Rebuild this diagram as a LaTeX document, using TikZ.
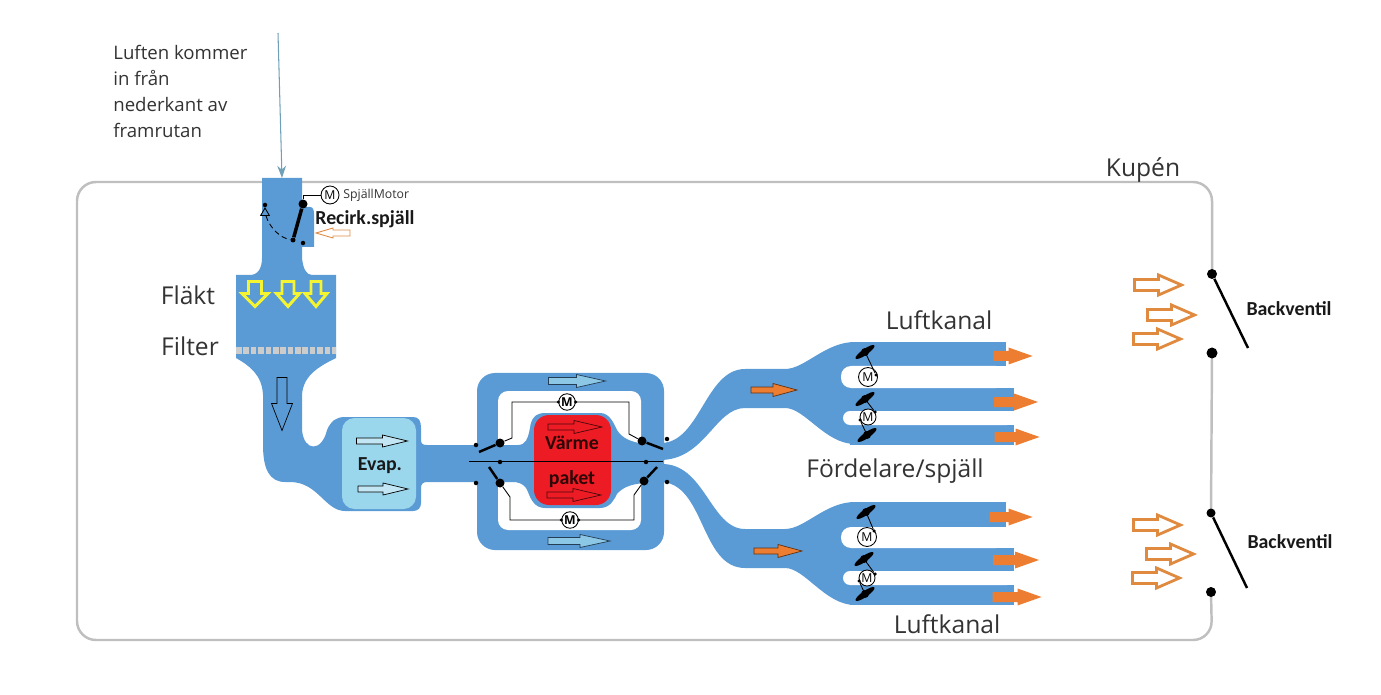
\documentclass[tikz,border=0pt]{standalone}
\usepackage{fontspec}
\setmainfont{Open Sans}
\newfontfamily\labelfont{Carlito}
\usetikzlibrary{arrows.meta,shapes.geometric}

\definecolor{ductblue}{HTML}{5B9BD5}
\definecolor{evapblue}{HTML}{9AD6EC}
\definecolor{pipeblue}{HTML}{8CC8E6}
\definecolor{heatred}{HTML}{ED1C24}
\definecolor{flowor}{HTML}{ED7D31}
\definecolor{hollowor}{HTML}{E08A40}
\definecolor{fanyellow}{HTML}{F4F430}
\definecolor{framegray}{HTML}{BFBFBF}

\tikzset{
  duct/.style={fill=ductblue},
  frameline/.style={draw=framegray,line width=1.4pt},
  % length, head width, shaft width, head length
  pics/flow/.style n args={4}{code={
    \path[pic actions] (-#1/2,-#3/2) -- (#1/2-#4,-#3/2) -- (#1/2-#4,-#2/2) -- (#1/2,0)
      -- (#1/2-#4,#2/2) -- (#1/2-#4,#3/2) -- (-#1/2,#3/2) -- cycle;}},
  solidor/.style={fill=flowor},
  hollow/.style={draw=hollowor,line width=1.6pt},
  thinarrow/.style={draw=black,line width=0.4pt},
  fanarrow/.style={draw=fanyellow,line width=1.7pt,rotate=-90},
  pivot/.style={circle,fill=black,inner sep=0pt,minimum size=#1*0.02cm},
  pivot/.default=8,
  tiny dot/.style={circle,fill=black,inner sep=0pt,minimum size=0.09cm},
  motor/.style={circle,draw=black,fill=white,line width=0.5pt,inner sep=0pt,minimum size=0.33cm,
    font=\fontsize{7}{8}\selectfont},
  wire/.style={draw=black,line width=0.5pt},
  flapline/.style={draw=black,line width=1.4pt},
  damper/.style={ellipse,fill=black,inner sep=0pt,minimum width=0.46cm,minimum height=0.12cm},
  bigtext/.style={inner sep=0pt,font=\fontsize{14}{16}\selectfont,text=black!80},
  boldtext/.style={inner sep=0pt,font=\labelfont\bfseries\fontsize{11.3}{13}\selectfont,text=black!90}
}

\begin{document}
\begin{tikzpicture}[x=0.02cm,y=-0.02cm]
  \useasboundingbox (0,0) rectangle (1381,695);

  % kupen frame with the two openings
  \coordinate (bvAtop) at (1212,274);
  \coordinate (bvAbot) at (1212,353);
  \coordinate (bvBtop) at (1211,513);
  \coordinate (bvBbot) at (1211,592);
  \draw[frameline] (bvAbot) -- (bvBtop);
  \draw[frameline,rounded corners=0.38cm] (bvBbot) -- (1212,640) -- (77,640) -- (77,182) -- (1212,182) -- (bvAtop);

  % intake, fan box, pipe and evaporator
  \fill[duct] (262,178) -- (302,178) -- (302,258) .. controls (303,268) and (306,275) .. (312,275)
    -- (336,275) -- (336,358) .. controls (320,366) and (303,375) .. (302,395)
    -- (302,430) .. controls (304,452) and (322,452) .. (327,430) .. controls (331,421) and (336,417) .. (345,417)
    -- (413,417) .. controls (419,417) and (421,421) .. (421,428) -- (421,440) .. controls (421,444) and (423,445) .. (427,445)
    -- (490,445) -- (490,482) -- (427,482) .. controls (423,482) and (421,484) .. (421,488)
    -- (421,503) .. controls (421,508) and (418,511) .. (413,511) -- (345,511)
    .. controls (325,511) and (318,482) .. (290,482) -- (285,482) .. controls (270,482) and (263,470) .. (263,445)
    -- (263,395) .. controls (262,375) and (250,366) .. (236,358) -- (236,275) -- (250,275)
    .. controls (258,275) and (262,268) .. (262,258) -- cycle;
  \fill[duct] (300,207) -- (310,207) .. controls (313,207) and (314,210) .. (314,214) -- (314,247) -- (300,247) -- cycle;
  \draw[framegray!80,line width=4pt,dash pattern=on 3.2pt off 1pt] (236,350.5) -- (336,350.5);
  \fill[evapblue,rounded corners=0.25cm] (342,418) rectangle (416,509);

  % bypass around the heater
  \fill[duct,rounded corners=0.36cm] (477,373) rectangle (664,550);
  \fill[white,rounded corners=0.2cm] (498,391) rectangle (641,530);
  \fill[duct] (495,445) -- (518,445) .. controls (526,445) and (528,438) .. (530,428) .. controls (531,419) and (535,413) .. (545,413)
    -- (600,413) .. controls (610,413) and (614,424) .. (617,430) .. controls (622,438) and (630,442) .. (645,444)
    -- (645,483) .. controls (630,484) and (622,488) .. (617,494) .. controls (614,500) and (610,508) .. (600,508)
    -- (545,508) .. controls (535,508) and (531,500) .. (528,492) .. controls (526,486) and (522,483) .. (515,482)
    -- (495,482) -- cycle;
  \fill[heatred,rounded corners=0.3cm] (534,415) rectangle (611,505);

  % upper branch and its three channels
  \fill[duct] (660,443) .. controls (700,444) and (705,369) .. (745,369) -- (785,369)
    .. controls (805,369) and (825,342) .. (855,342) -- (855,444)
    .. controls (825,444) and (805,408) .. (785,408) -- (745,408)
    .. controls (715,408) and (705,460) .. (660,460) -- cycle;
  \fill[duct] (850,342) rectangle (1006,366);
  \fill[duct] (850,388) rectangle (1014,411);
  \fill[duct] (850,425) rectangle (1014,445);
  \fill[white,rounded corners=0.2cm] (841,366) rectangle (1006,388);
  \fill[white,rounded corners=0.14cm] (843,411) rectangle (1014,425);

  % lower branch and its three channels
  \fill[duct] (660,464) .. controls (705,462) and (710,529) .. (745,529) -- (785,529)
    .. controls (805,529) and (825,502) .. (855,502) -- (855,605)
    .. controls (825,605) and (805,568) .. (785,568) -- (745,568)
    .. controls (700,568) and (705,482) .. (660,482) -- cycle;
  \fill[duct] (850,502) rectangle (1006,527);
  \fill[duct] (850,548) rectangle (1014,571);
  \fill[duct] (850,585) rectangle (1014,605);
  \fill[white,rounded corners=0.2cm] (841,527) rectangle (1006,548);
  \fill[white,rounded corners=0.14cm] (843,571) rectangle (1014,585);

  % air coming in
  \coordinate (airtop) at (278,33);
  \coordinate (airend) at (282,178);
  \draw[draw=pipeblue!80!black,line width=0.6pt,-{Stealth[length=7pt,width=5pt]}] (airtop) -- (airend);

  % recirc flap
  \node[pivot=9] (recpiv) at (303,204) {};
  \node[pivot=5] (recend) at (293,240) {};
  \node[tiny dot] (recdot) at (303,243) {};
  \node[tiny dot] (tridot) at (265,205) {};
  \node[draw=black,fill=ductblue,regular polygon,regular polygon sides=3,inner sep=0pt,minimum size=0.2cm,line width=0.5pt] (tri) at (265,213) {};
  \node[motor,minimum size=0.36cm] (recmotor) at (330,195) {M};
  \draw[line width=2pt] (recpiv) -- (recend);
  \draw[wire] (recpiv) |- (recmotor);
  \draw[wire,densely dashed] (tri) .. controls (270,228) and (280,238) .. (recend);
  \pic[draw=hollowor,line width=0.5pt,rotate=180] (recarrow) at (333,233) {flow={34}{10}{6}{17}};

  % fan and pipe arrows
  \pic[fanarrow] (fanA) at (255,294) {flow={25}{26}{13}{13}};
  \pic[fanarrow] (fanB) at (288,294) {flow={25}{23}{12}{13}};
  \pic[fanarrow] (fanC) at (316,294) {flow={25}{22}{10}{13}};
  \pic[thinarrow,rotate=-90] (pipearrow) at (282,404) {flow={53}{21}{10}{27}};

  % arrows through evaporator and bypass
  \pic[thinarrow,fill=white!40!evapblue] (evapA) at (382,441) {flow={51}{12}{6}{25}};
  \pic[thinarrow,fill=white!40!evapblue] (evapB) at (383,489) {flow={50}{12}{6}{25}};
  \pic[thinarrow,draw=black!60!ductblue,fill=pipeblue] (byA) at (577,381) {flow={57}{13}{7}{29}};
  \pic[thinarrow,draw=black!60!ductblue,fill=pipeblue] (byB) at (579,541) {flow={62}{13}{7}{30}};
  \pic[thinarrow,draw=black!70!heatred] (heatA) at (575,427) {flow={54}{13}{6}{28}};
  \pic[thinarrow,draw=black!70!heatred] (heatB) at (574,495) {flow={54}{13}{6}{28}};

  % orange air arrows in the branches
  \pic[solidor,draw=black!60!flowor,line width=0.4pt] (inA) at (774,390) {flow={46}{13}{6}{24}};
  \pic[solidor,draw=black!60!flowor,line width=0.4pt] (inB) at (778,551) {flow={48}{13}{6}{24}};
  \foreach \name/\xc/\yc/\len in {outA/1013/356/39,outB/1016/402/44,outC/1017/437/45,outD/1011/517/43,outE/1016/560/46,outF/1017/597/49}
    \pic[solidor] (\name) at (\xc,\yc) {flow={\len}{17}{10}{24}};

  % air leaving through the backventil
  \foreach \name/\xc/\yc in {ventA/1158/285,ventB/1171/315,ventC/1157/339,ventD/1157/525,ventE/1170/554,ventF/1156/578}
    \pic[hollow] (\name) at (\xc,\yc) {flow={47}{20}{11}{23}};
  \node[pivot=10] (bvApiv) at (bvAtop) {};
  \node[pivot=11] (bvAdot) at (bvAbot) {};
  \node[pivot=9] (bvBpiv) at (bvBtop) {};
  \node[pivot=10] (bvBdot) at (bvBbot) {};
  \coordinate (bvAend) at (1248,348);
  \coordinate (bvBend) at (1247,588);
  \draw[flapline] (bvApiv) -- (bvAend);
  \draw[flapline] (bvBpiv) -- (bvBend);

  % flaps round the heater
  \coordinate (midL) at (469,461);
  \coordinate (midR) at (663,461);
  \draw[wire] (midL) -- (midR);
  \foreach \name/\xc/\yc in {midA/500/462,midB/646/462,stopA/476/445,stopB/476/483,stopC/667/439,stopD/667/482}
    \node[tiny dot] (\name) at (\xc,\yc) {};
  \node[pivot=9] (flapUL) at (500,443) {};
  \node[pivot=9] (flapLL) at (500,483) {};
  \node[pivot=9] (flapUR) at (642,441) {};
  \node[pivot=9] (flapLR) at (644,481) {};
  \coordinate (endUL) at (479,452);
  \coordinate (endLL) at (489,467);
  \coordinate (endUR) at (663,449);
  \coordinate (endLR) at (657,467);
  \draw[flapline] (flapUL) -- (endUL);
  \draw[flapline] (flapLL) -- (endLL);
  \draw[flapline] (flapUR) -- (endUR);
  \draw[flapline] (flapLR) -- (endLR);
  \node[motor] (motorT) at (567,402) {\textbf{M}};
  \node[motor] (motorB) at (570,520) {\textbf{M}};
  \draw[wire] (flapUL) -- (512,438) |- (motorT);
  \draw[wire] (motorT) -| (629,434) -- (flapUR);
  \draw[wire] (flapLL) -- (510,497) |- (motorB);
  \draw[wire] (motorB) -| (634,495) -- (flapLR);
  \foreach \mot in {motorT,motorB} {
    \node[tiny dot,minimum size=0.07cm] (\mot w) at (\mot.west) {};
    \node[tiny dot,minimum size=0.07cm] (\mot e) at (\mot.east) {};
  }

  % dampers in the channels
  \foreach \name/\xc/\yc in {dampA/865/352,dampB/865/399,dampC/867/435,dampD/866/512,dampE/864/559,dampF/865/594} {
    \node[damper,rotate=35] (\name) at (\xc,\yc) {};
    \node[pivot=8] (\name c) at (\xc,\yc) {};
  }
  \foreach \name/\xc/\yc/\size in {motorA/868/377/0.38cm,motorC/868/417/0.32cm,motorD/867/537/0.38cm,motorE/867/578/0.32cm}
    \node[motor,minimum size=\size] (\name) at (\xc,\yc) {M};
  \foreach \name/\xc/\yc/\from in {wireA/876/375/dampA,wireB/875/412/dampB,wireC/860/420/dampC,wireD/874/531/dampD,wireE/875/574/dampE,wireF/859/581/dampF} {
    \node[tiny dot,minimum size=0.07cm] (\name) at (\xc,\yc) {};
    \draw[wire] (\from) -- (\name);
  }

  % texts
  \node[inner sep=0pt,anchor=north west,align=left,text=black!80,font=\fontsize{10.6}{14.8}\selectfont] (airtext) at (113,45)
    {Luften kommer\\in från\\nederkant av\\framrutan};
  \node[bigtext] (kupen) at (1143,170) {Kupén};
  \node[bigtext] (flakt) at (188,295) {Fläkt};
  \node[bigtext] (filter) at (190,346) {Filter};
  \node[bigtext] (kanalA) at (939,320) {Luftkanal};
  \node[bigtext] (kanalB) at (947,624) {Luftkanal};
  \node[bigtext] (fordel) at (895,471) {Fördelare/spjäll};
  \node[inner sep=0pt,anchor=west,font=\fontsize{7}{8}\selectfont,text=black!80] (spjmotor) at (343,195) {SpjällMotor};
  \node[boldtext,anchor=west] (recirk) at (315,219) {Recirk.spjäll};
  \node[boldtext] (evap) at (380,466) {Evap.};
  \node[boldtext,text=black!80!heatred] (varme) at (572,443) {Värme};
  \node[boldtext,text=black!80!heatred] (paket) at (572,479) {paket};
  \node[boldtext] (bvtextA) at (1289,309) {Backventil};
  \node[boldtext] (bvtextB) at (1290,542) {Backventil};
\end{tikzpicture}
\end{document}
